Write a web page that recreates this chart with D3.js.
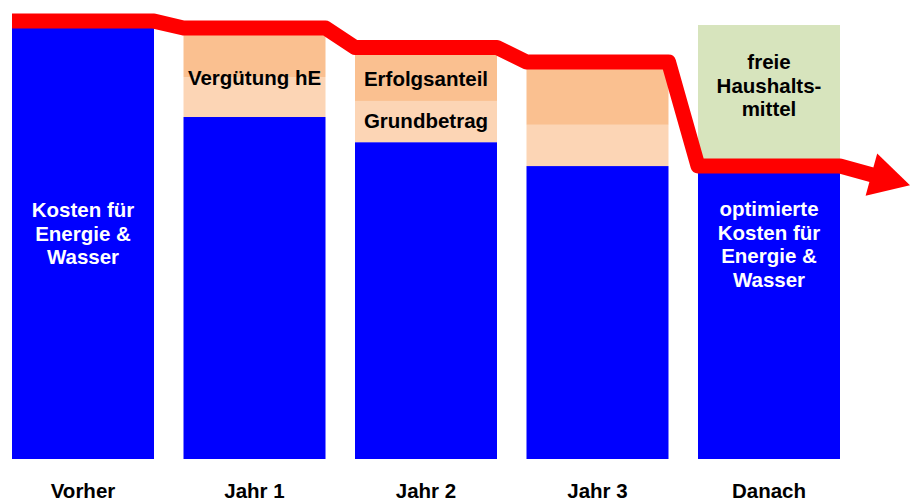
<!DOCTYPE html>
<html>
<head>
<meta charset="utf-8">
<script src="https://cdn.jsdelivr.net/npm/d3@7"></script>
<style>
  body { margin: 0; background: #fff; }
  svg { display: block; }
  text { font-family: "Liberation Sans", Arial, sans-serif; font-weight: bold; }
</style>
</head>
<body>
<div id="chart"></div>
<script>
// values in % of the costs before the measure (Vorher = 100)
const categories = ["Vorher", "Jahr 1", "Jahr 2", "Jahr 3", "Danach"];
const energyCosts = [100, 78.8, 73.0, 67.5, 67.5];   // Kosten für Energie & Wasser
const basePay = [0, 9.2, 9.5, 9.5, 0];               // Grundbetrag
const successShare = [0, 10.4, 11.4, 13.6, 0];       // Erfolgsanteil
const freeFunds = [0, 0, 0, 0, 32.5];                // freie Haushaltsmittel
const trendLine = [100.9, 99.3, 94.8, 91.5, 67.5];   // red line level
const arrowTip = 63.1;

const W = 911, H = 503;
const colors = { blue: "#0000ff", base: "#fcd5b5", success: "#fac090", free: "#d7e4bd", line: "#ff0000" };

const svg = d3.select("#chart").append("svg").attr("width", W).attr("height", H);

const x = d3.scaleBand().domain(categories).range([0, 852]).paddingInner(0.172).paddingOuter(0.07);
const y = d3.scaleLinear().domain([0, 100]).range([459, 25]);
const bw = x.bandwidth();

// stacked segments
const segs = [];
categories.forEach((c, i) => {
  let acc = 0;
  [[energyCosts[i], colors.blue], [basePay[i], colors.base], [successShare[i], colors.success], [freeFunds[i], colors.free]]
    .forEach(([v, col]) => {
      if (v > 0) segs.push({ c, y0: acc, y1: acc + v, col });
      acc += v;
    });
});

svg.append("g").selectAll("rect").data(segs).join("rect")
  .attr("x", d => x(d.c))
  .attr("width", bw)
  .attr("y", d => y(d.y1))
  .attr("height", d => y(d.y0) - y(d.y1))
  .attr("fill", d => d.col);

// category labels
svg.append("g").selectAll("text").data(categories).join("text")
  .attr("x", d => x(d) + bw / 2)
  .attr("y", 498)
  .attr("text-anchor", "middle")
  .attr("font-size", 20.5)
  .attr("fill", "#000")
  .text(d => d);

function block(cat, lines, y0, lh, fill) {
  const t = svg.append("text")
    .attr("text-anchor", "middle")
    .attr("font-size", 20.5)
    .attr("fill", fill);
  lines.forEach((s, k) => {
    t.append("tspan").attr("x", x(cat) + bw / 2).attr("y", y0 + k * lh).text(s);
  });
}

block("Vorher", ["Kosten für", "Energie &", "Wasser"], 217, 23.5, "#fff");
block("Danach", ["optimierte", "Kosten für", "Energie &", "Wasser"], 216, 23.5, "#fff");
block("Danach", ["freie", "Haushalts-", "mittel"], 69, 23.7, "#000");
block("Jahr 1", ["Vergütung hE"], y(energyCosts[1]) - 32, 0, "#000");
block("Jahr 2", ["Erfolgsanteil"], y(energyCosts[2] + basePay[2]) - 15.3, 0, "#000");
block("Jahr 2", ["Grundbetrag"], y(energyCosts[2]) - 13.7, 0, "#000");

// red trend line with arrow
const pts = [];
categories.forEach((c, i) => {
  pts.push([x(c), y(trendLine[i])]);
  pts.push([x(c) + bw, y(trendLine[i])]);
});
const start = pts[pts.length - 1];
const tip = [W - 1, y(arrowTip)];
const dx = tip[0] - start[0], dy = tip[1] - start[1];
const len = Math.hypot(dx, dy);
const ux = dx / len, uy = dy / len;
const headLen = 40, headHalf = 22;
const baseC = [tip[0] - ux * headLen, tip[1] - uy * headLen];
pts.push([baseC[0] + ux * 4, baseC[1] + uy * 4]);

svg.append("path")
  .attr("d", d3.line()(pts))
  .attr("fill", "none")
  .attr("stroke", colors.line)
  .attr("stroke-width", 15)
  .attr("stroke-linejoin", "round");

svg.append("path")
  .attr("d", d3.line()([
    [baseC[0] - uy * headHalf, baseC[1] + ux * headHalf],
    tip,
    [baseC[0] + uy * headHalf, baseC[1] - ux * headHalf]
  ]) + "Z")
  .attr("fill", colors.line);
</script>
</body>
</html>
